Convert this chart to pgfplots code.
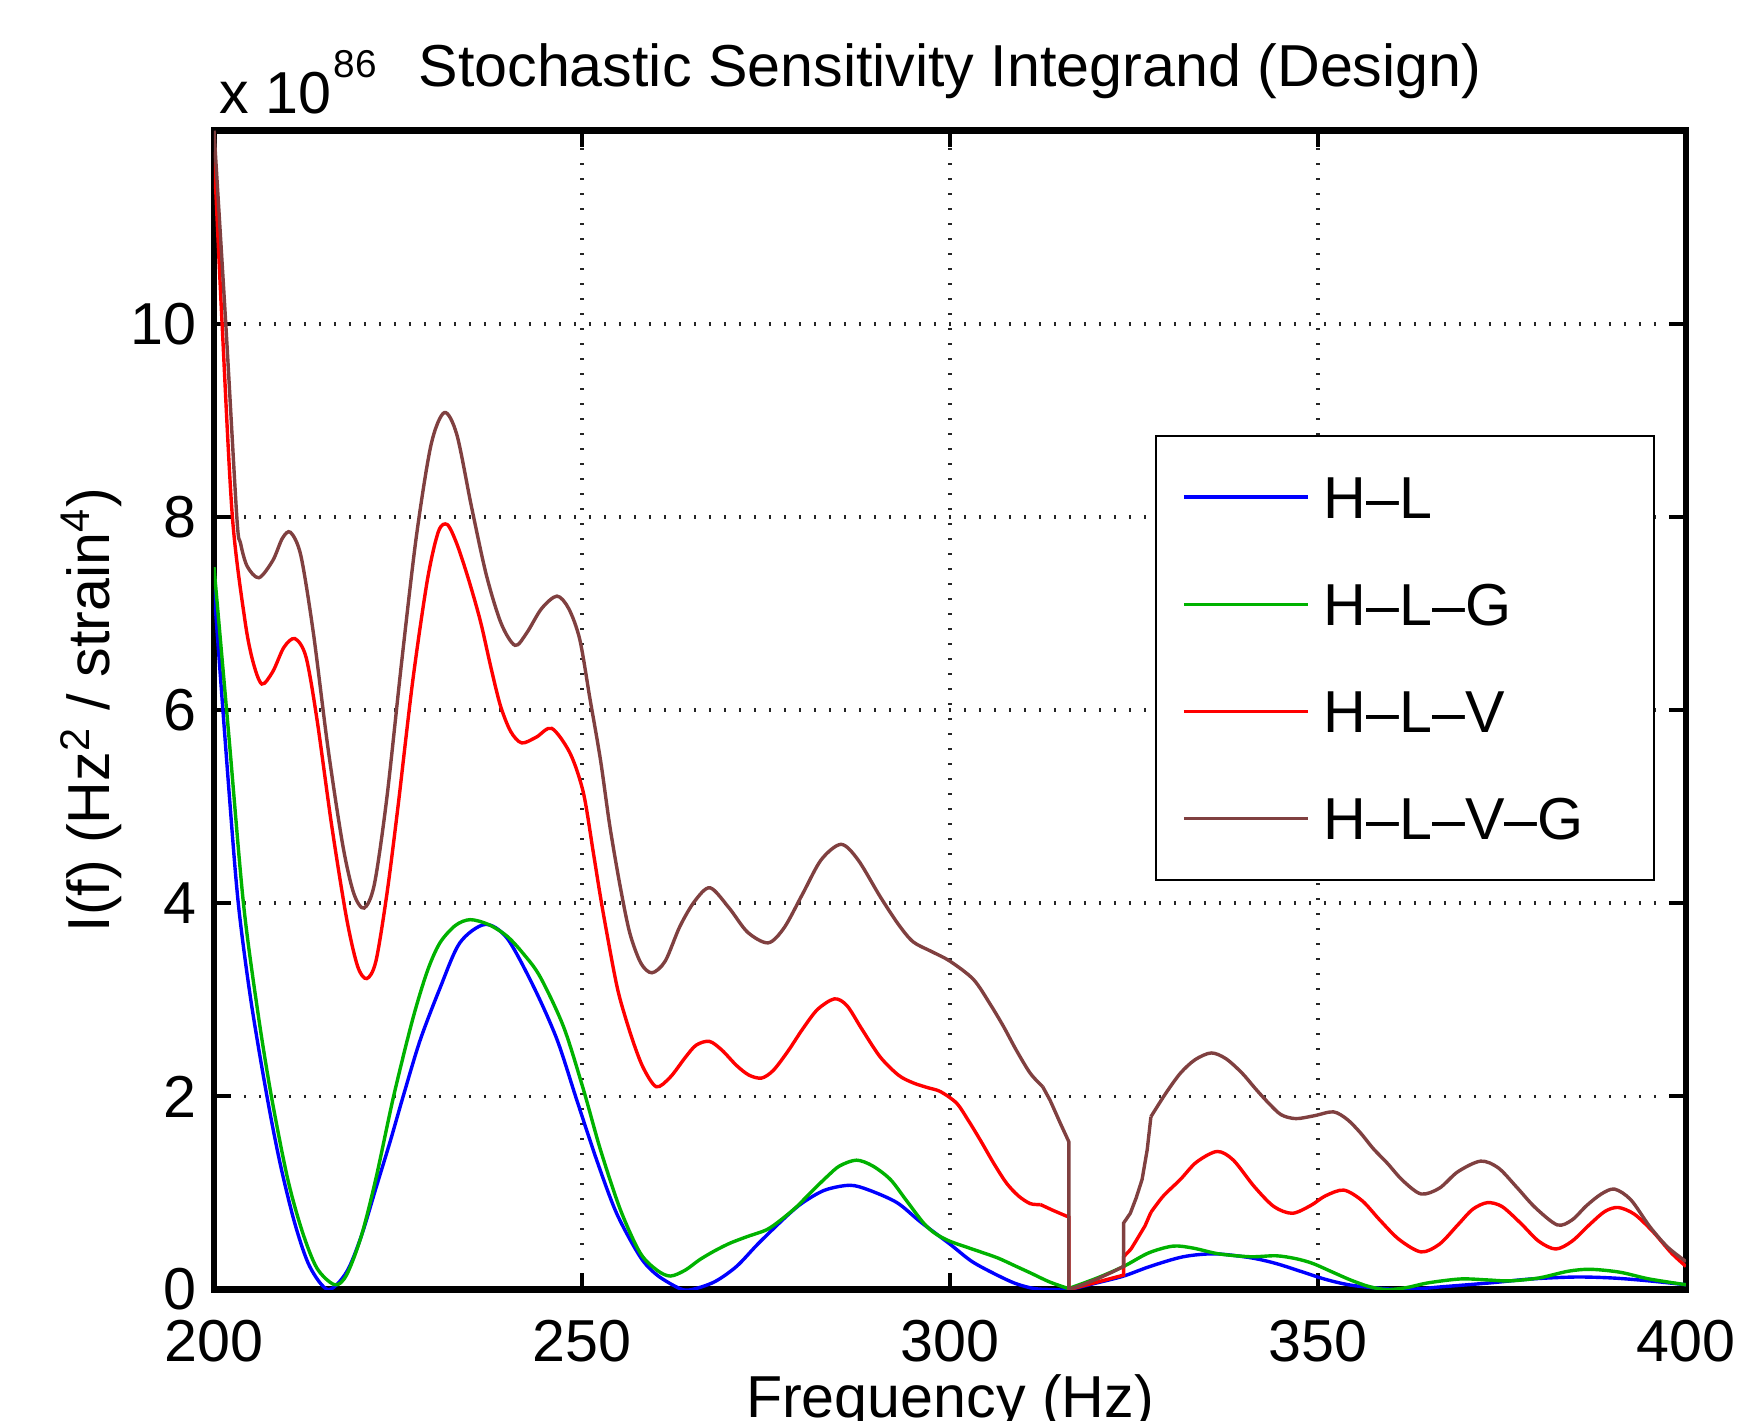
\documentclass[border=0pt]{standalone}
\usepackage{fontspec}
\setmainfont{Liberation Sans}
\usepackage{pgfplots}
\pgfplotsset{compat=1.18}
\newcommand\ff{\fontsize{14.8}{17.8}\selectfont}
\definecolor{cblue}{rgb}{0,0,1}
\definecolor{cgreen}{rgb}{0,0.7,0}
\definecolor{cred}{rgb}{1,0,0}
\definecolor{cbrown}{rgb}{0.5,0.25,0.25}
\begin{document}
\begin{tikzpicture}
\begin{axis}[
 name=ax,
 scale only axis, width=368pt, height=289.75pt,
 xmin=200, xmax=400, ymin=0, ymax=12,
 xtick={200,250,...,400}, ytick={0,2,...,10},
 /pgf/number format/assume math mode=true,
 tick label style={font=\ff},
 xticklabel style={anchor=north, inner sep=0pt, yshift=-7.5pt},
 yticklabel style={anchor=east, inner sep=0pt, xshift=-4.15pt},
 tick align=inside,
 xtick pos=both, ytick pos=both,
 major tick length=4.2pt,
 every tick/.style={black, line width=1pt},
 axis line style={line width=1.6pt},
 grid=major,
 grid style={black!85, line width=0.9pt, dash pattern=on 0.45pt off 3.3pt},
 xlabel={Frequency (Hz)},
 ylabel={I(f) (Hz\textsuperscript{2} / strain\textsuperscript{4})},
 xlabel style={font=\ff, at={(axis description cs:0.5,-0.1101)}, anchor=base, inner sep=0pt},
 ylabel style={font=\ff, at={(axis description cs:-0.0707,0.5)}, anchor=base, inner sep=0pt},
 legend cell align=left,
 legend style={font=\ff, at={(axis description cs:0.9788,0.7377)}, anchor=north east,
   draw=black, line width=0.5pt, inner xsep=0pt, inner ysep=2pt, column sep=0pt, row sep=0pt,
   nodes={inner sep=0pt, text height=18.7pt, text depth=8.1pt}},
 legend image code/.code={\path[draw=none] (0pt,0pt) -- (42pt,0pt); \draw[#1, line width=0.85pt] (7pt,0pt) -- (38pt,0pt);},
 every axis plot/.append style={line width=0.85pt},
]
% H-L
\addplot[cblue, smooth] coordinates {(200,7.25)(202,5.2)(203.3,4.0)(205,3.0)(207.2,2.0)(209,1.3)(211,0.68)(213,0.24)(215.5,0.0)(218,0.18)(220,0.55)(222,1.05)(224,1.55)(225.7,2.0)(228,2.58)(230.7,3.12)(233.4,3.59)(236.8,3.78)(239.8,3.64)(243.4,3.14)(246.6,2.59)(249.3,1.96)(252,1.34)(254.7,0.79)(257.9,0.34)(260.2,0.15)(263.3,0.01)(264.9,0.0)(268,0.08)(271,0.24)(274,0.48)(277.8,0.76)(280,0.9)(283,1.03)(286.4,1.08)(289,1.03)(292.8,0.9)(296,0.7)(300,0.47)(303,0.29)(306.4,0.15)(309,0.06)(311.5,0.01)(314,0.0)(316.1,0.0)(320,0.07)(323.6,0.14)(327.2,0.24)(331.7,0.34)(336,0.37)(340.8,0.33)(344.3,0.27)(348,0.18)(351.3,0.1)(355,0.04)(361.4,0.0)(367,0.03)(373.5,0.07)(379,0.11)(385,0.13)(390,0.12)(395,0.09)(400,0.05)};
\addlegendentry{\makebox[82.5pt][l]{H--L}}
% H-L-G
\addplot[cgreen, smooth] coordinates {(200,7.48)(202,5.75)(204,4.0)(206,2.85)(207.8,2.0)(210,1.15)(212,0.6)(214,0.22)(216.4,0.05)(218,0.15)(220,0.55)(222,1.15)(224.4,2.0)(227,2.8)(229,3.3)(230.7,3.59)(232.8,3.77)(234.8,3.83)(237.3,3.78)(239.8,3.66)(242,3.48)(244.3,3.24)(247.5,2.72)(250.2,2.07)(252.5,1.45)(255.2,0.83)(257.9,0.38)(260.2,0.2)(262,0.14)(264,0.2)(266,0.31)(268,0.4)(270.1,0.48)(272.5,0.55)(275.1,0.62)(277,0.72)(279.2,0.86)(281,1.0)(283.3,1.17)(285,1.28)(287.3,1.34)(289.5,1.28)(291.9,1.14)(294,0.93)(296.4,0.69)(298,0.58)(300,0.5)(303,0.42)(306.4,0.33)(309,0.24)(311,0.17)(313.5,0.08)(316.1,0.01)};
\addlegendentry{\makebox[82.5pt][l]{H--L--G}}
\addplot[cgreen, smooth, forget plot] coordinates {(316.1,0.01)(320,0.12)(323.6,0.24)(327,0.38)(330.3,0.45)(333,0.43)(336.5,0.37)(340.8,0.34)(344.3,0.35)(347,0.32)(349.3,0.27)(352,0.18)(354.4,0.1)(357,0.03)(359.4,0.0)(362,0.02)(365,0.07)(369.4,0.11)(373,0.1)(376,0.09)(380,0.12)(384,0.19)(387,0.21)(391,0.18)(395,0.11)(400,0.05)};
% H-L-V
\addplot[cred, smooth] coordinates {(200,11.78)(201.1,10.0)(202.5,8.0)(204.2,6.93)(205.3,6.5)(206.5,6.27)(208,6.4)(209.5,6.65)(211,6.74)(212.5,6.55)(214,5.9)(216,4.8)(218,3.85)(219.5,3.35)(220.75,3.22)(222,3.4)(223.5,4.1)(225,5.0)(227,6.3)(229,7.35)(230.5,7.85)(231.7,7.92)(233,7.72)(234.6,7.35)(236.2,6.92)(237.6,6.45)(238.9,6.05)(240.3,5.78)(241.8,5.66)(243.8,5.72)(245.9,5.81)(248.4,5.55)(250.2,5.14)(251.55,4.52)(252.7,3.98)(254.3,3.31)(255.2,3.0)(256.8,2.6)(258.3,2.3)(260.1,2.1)(262,2.2)(264,2.4)(265.5,2.53)(267.3,2.57)(269,2.48)(271,2.32)(272.7,2.22)(274.4,2.19)(276,2.27)(278,2.47)(280,2.7)(282,2.9)(284.3,3.01)(286,2.94)(288,2.7)(290.5,2.41)(293,2.22)(295,2.14)(297,2.09)(298.7,2.05)(300.9,1.93)(302.5,1.75)(304.1,1.55)(306,1.3)(307.7,1.1)(309.3,0.97)(310.9,0.89)(312.3,0.88)};
\addlegendentry{\makebox[82.5pt][l]{H--L--V}}
\addplot[cred, forget plot] coordinates {(312.3,0.88)(314,0.82)(316.15,0.75)(316.15,0)(323.6,0.15)(323.6,0.34)(324.6,0.42)(325.4,0.52)(326.5,0.66)(327.3,0.8)};
\addplot[cred, smooth, forget plot] coordinates {(327.3,0.8)(329,0.97)(331.3,1.14)(333.5,1.32)(336.3,1.43)(338.5,1.34)(341.3,1.07)(344,0.86)(346.5,0.79)(349,0.87)(351,0.97)(353.5,1.03)(356,0.92)(358.4,0.72)(361,0.52)(364,0.39)(366.5,0.47)(369,0.67)(371,0.83)(373,0.9)(375,0.86)(377.5,0.69)(380,0.5)(382.3,0.42)(384.5,0.5)(387,0.68)(389,0.81)(390.8,0.85)(393,0.78)(395.5,0.6)(398,0.38)(400,0.24)};
% H-L-V-G
\addplot[cbrown, smooth] coordinates {(200,12.0)(201.6,10.0)(203.1,8.0)(203.6,7.73)(204.5,7.49)(206.1,7.37)(208,7.55)(209.3,7.78)(210.4,7.84)(211.8,7.6)(213.5,6.8)(215.5,5.6)(217.5,4.6)(219,4.1)(220.4,3.95)(221.8,4.2)(223.5,5.1)(225.5,6.5)(227.5,7.8)(229.5,8.75)(231.3,9.08)(233,8.85)(235,8.1)(237,7.4)(239,6.9)(240.9,6.67)(242.5,6.8)(244.5,7.05)(246.6,7.18)(248.2,7.05)(249.7,6.73)(251.1,6.11)(252.5,5.49)(253.8,4.79)(255.2,4.17)(256.5,3.69)(258,3.38)(259.5,3.28)(261.3,3.4)(263.3,3.76)(265.3,4.02)(267.4,4.16)(270,3.95)(272.5,3.7)(275.3,3.59)(277.5,3.75)(280,4.1)(282.5,4.45)(285.2,4.61)(287.5,4.45)(290.5,4.07)(293,3.78)(295,3.6)(297.5,3.5)(300,3.4)(303.2,3.21)(305.5,2.95)(307.3,2.72)(309,2.48)(310.9,2.24)(312.6,2.1)};
\addlegendentry{\makebox[82.5pt][l]{H--L--V--G}}
\addplot[cbrown, forget plot] coordinates {(312.6,2.1)(313.6,1.96)(315,1.72)(316.15,1.53)(316.15,0)(318,0.05)(320,0.11)(322,0.18)(323.6,0.24)(323.6,0.69)(324.5,0.79)(325.3,0.95)(326.1,1.14)(326.8,1.45)(327.3,1.79)};
\addplot[cbrown, smooth, forget plot] coordinates {(327.3,1.79)(329.3,2.03)(331.3,2.24)(333.3,2.38)(335.5,2.45)(337.5,2.39)(339.7,2.24)(341.5,2.08)(343.3,1.93)(345,1.81)(347,1.77)(349.5,1.8)(352.1,1.84)(354,1.76)(355.8,1.62)(357.5,1.46)(359.4,1.31)(361.5,1.13)(364,0.99)(366.5,1.05)(369,1.22)(372.1,1.33)(374.5,1.26)(377,1.06)(379.5,0.85)(382.5,0.67)(384.5,0.72)(386.5,0.87)(388.5,0.99)(390.3,1.04)(392.5,0.93)(395.1,0.65)(397.5,0.44)(400,0.29)};
\end{axis}
\node[anchor=base, inner sep=0pt, font=\ff] at ([yshift=11pt]ax.north) {Stochastic Sensitivity Integrand (Design)};
\node[anchor=base west, inner sep=0pt, font=\ff] at ([xshift=1.1pt,yshift=4.15pt]ax.north west) {x 10\kern0.6pt\raisebox{9.15pt}{\fontsize{9.7}{11}\selectfont 86}};
\pgfresetboundingbox
\path ([xshift=-53.5pt,yshift=-32.8pt]ax.south west) rectangle ([xshift=13.25pt,yshift=32.65pt]ax.north east);
\end{tikzpicture}
\end{document}
